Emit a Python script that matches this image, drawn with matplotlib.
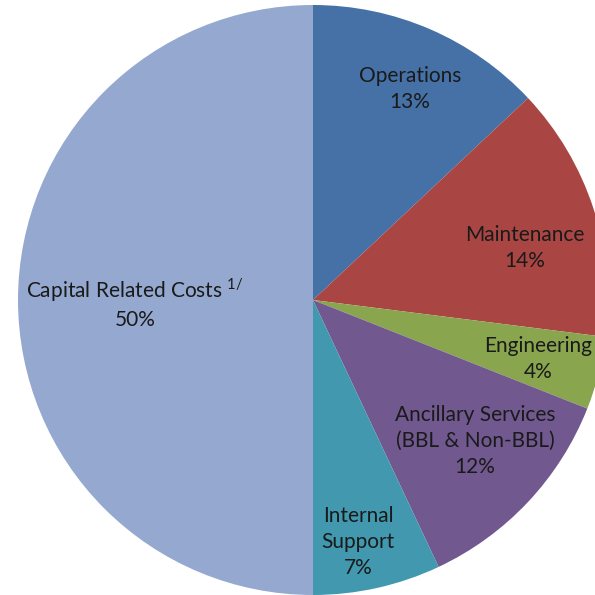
import matplotlib
matplotlib.use("Agg")
import matplotlib.pyplot as plt

plt.rcParams["font.family"] = ["Lato", "DejaVu Sans"]

CATEGORIES = ["Operations", "Maintenance", "Engineering",
              "Ancillary Services\n(BBL & Non-BBL)", "Internal\nSupport",
              "Capital Related Costs $^{\\mathregular{1/}}$"]
SHARES = [13, 14, 4, 12, 7, 50]
COLORS = ["#4571A6", "#A94643", "#89A54E", "#71588F", "#4198AF", "#95A9D0"]

# label anchor points, in pixel offsets from the pie centre
LABEL_POS = [(97, 211), (212, 52), (225, -59), (162, -141), (45, -242), (-178, -3)]

R = 295

fig = plt.figure(figsize=(5.95, 5.95), dpi=100)
ax = fig.add_axes([0, 0, 1, 1])
ax.pie(SHARES, colors=COLORS, startangle=90, counterclock=False,
       radius=R, center=(0, 0), frame=False)
ax.set_xlim(-313, 282)
ax.set_ylim(-295, 300)
ax.set_aspect("equal")
ax.axis("off")

for name, share, (x, y) in zip(CATEGORIES, SHARES, LABEL_POS):
    ax.text(x, y, f"{name}\n{share}%", ha="center", va="center",
            fontsize=15, color="#1a1a1a", linespacing=1.38)

fig.savefig("out.png", dpi=100)
